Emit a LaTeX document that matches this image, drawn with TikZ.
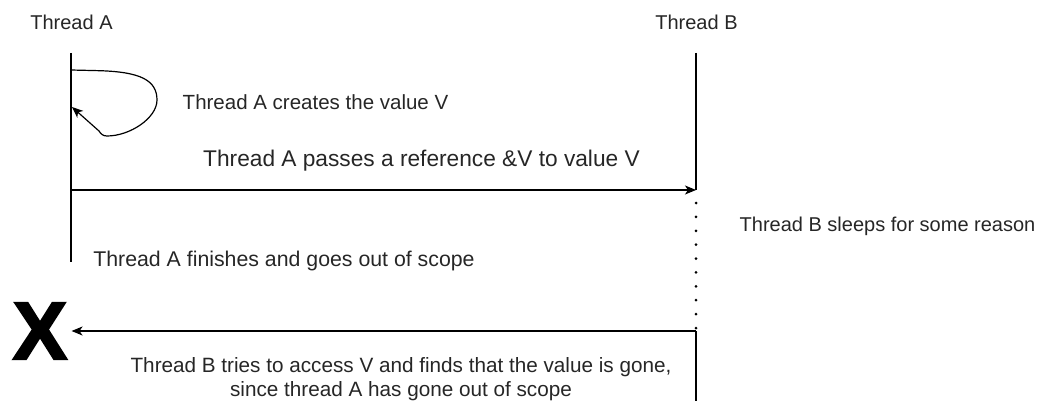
\documentclass[tikz,border=0pt]{standalone}
\usepackage{fontspec}
\setmainfont{Liberation Sans}
\newfontfamily\heavyfont[FakeBold=2.5]{Liberation Sans Bold}
\usetikzlibrary{arrows.meta, positioning}

\begin{document}
\begin{tikzpicture}[
    x=1pt, y=-1pt,
    label/.style={font=\fontsize{#1}{24}\selectfont, align=center,
                  inner sep=0pt, anchor=base, text=black!85},
    label/.default=20,
    lifeline/.style={line width=1.2pt},
    msg/.style={line width=1.2pt, -{Stealth[length=11pt, width=9pt, inset=3pt]}},
    sleep/.style={line width=3pt, line cap=round, dash pattern=on 0pt off 13.89pt}
]
\useasboundingbox (0,0) rectangle (1043,401);

% Thread headers
\node[label] at (71.5,30) (thA) {Thread A};
\node[label] at (696.5,30) (thB) {Thread B};

% Lifeline points
\coordinate (aTop) at (71,53);
\coordinate (aLoopOut) at (71,70);
\coordinate (aLoopIn) at (72,107);
\coordinate (aSend) at (71,190);
\coordinate (aEnd) at (71,262);
\coordinate (bTop) at (696,53);
\coordinate (bRecv) at (696,190);
\coordinate (bSleep) at (696,203);
\coordinate (bWake) at (696,331);
\coordinate (bEnd) at (696,401);

% Lifelines
\draw[lifeline] (aTop) -- (aEnd);
\draw[lifeline] (bTop) -- (bRecv);
\draw[sleep] (bSleep) -- (bWake);
\draw[lifeline] (bWake) -- (bEnd);

% Value V is created
\draw[msg] (aLoopOut) -- (100,70.7) .. controls (140,72) and (157,80) .. (157,100)
    .. controls (157,118) and (130,136) .. (107,136)
    .. controls (103,136) and (101,134) .. (99,131) -- (aLoopIn);
\node[label=20.5] at (315.5,110) (create) {Thread A creates the value V};

% Reference handed over
\draw[msg] (aSend) -- (bRecv);
\node[label=22.7] at (421.5,166) (pass) {Thread A passes a reference \&V to value V};

\node[label] at (887.5,231.5) (sleeps) {Thread B sleeps for some reason};
\node[label=21.3] at (284,266) (finish) {Thread A finishes and goes out of scope};

% Access after A is gone
\node[font=\fontsize{82}{82}\selectfont\heavyfont, inner sep=4pt] at (40,331) (gone) {X};
\draw[msg] (bWake) -- (gone);
\node[label=20.7] at (401,396) (access) {Thread B tries to access V and finds that the value is gone,\\
    since thread A has gone out of scope};

\end{tikzpicture}
\end{document}
